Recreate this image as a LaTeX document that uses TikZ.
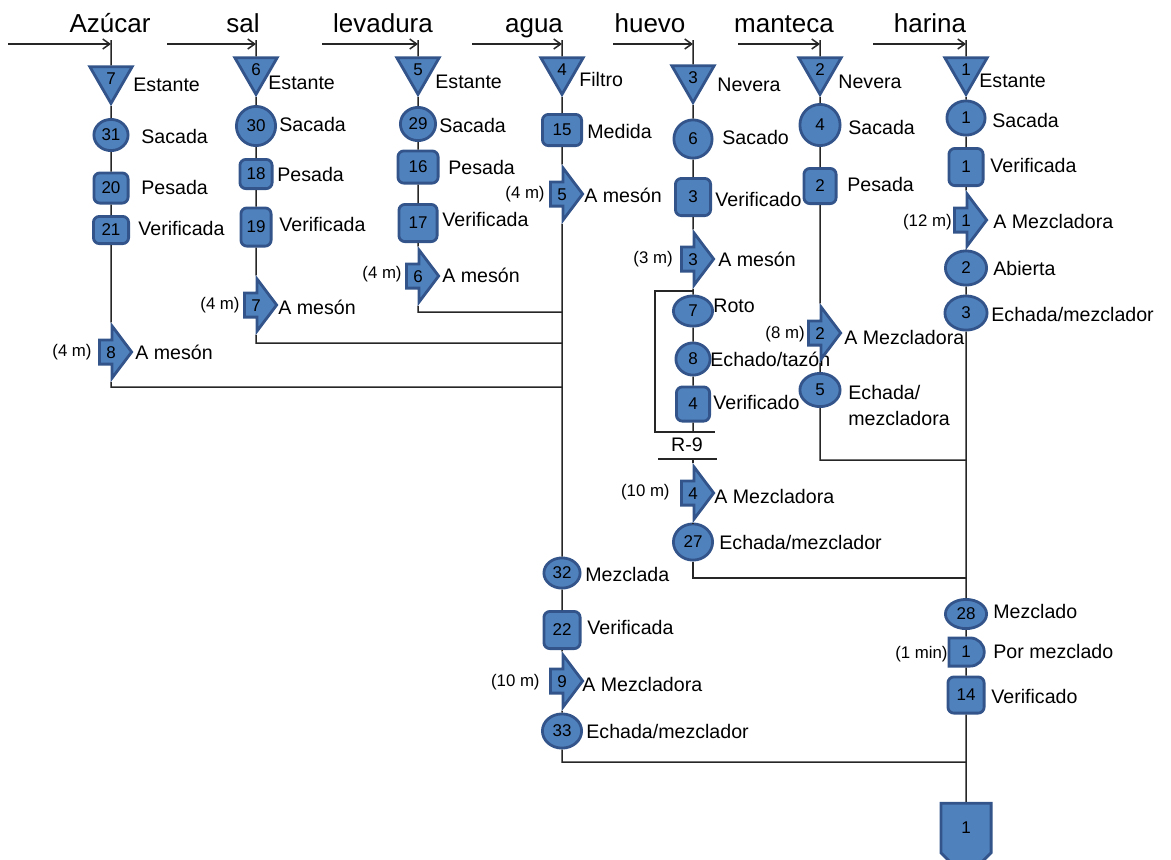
\documentclass[tikz,border=0pt]{standalone}
\usepackage{fontspec}
\setmainfont{Liberation Sans}
\usetikzlibrary{shapes.geometric,shapes.arrows,shapes.misc,shapes.symbols,arrows.meta}
\definecolor{opfill}{HTML}{4F81BD}
\definecolor{opedge}{HTML}{33548A}
\newcommand{\numfont}{\fontsize{8.5}{10}\selectfont}
\newcommand{\lblfont}{\fontsize{9.8}{13}\selectfont}
\newcommand{\distfont}{\fontsize{8.4}{10}\selectfont}
\newcommand{\hdrfont}{\fontsize{13}{15}\selectfont}
\tikzset{
  shp/.style={draw=opedge, fill=opfill, line width=1.4pt, font=\numfont, inner sep=0pt},
  sz/.style 2 args={minimum width=#1pt, minimum height=#2pt},
  oper/.style={shp, ellipse, sz={19.6}{16.6}},
  insp/.style={shp, rectangle, rounded corners=3pt, sz={17.6}{17.1}},
  stor/.style={shp, regular polygon, regular polygon sides=3, shape border rotate=180, minimum size=24.4pt},
  transp/.style={shp, single arrow, single arrow head extend=7pt, single arrow tip angle=106,
    minimum height=16.1pt, inner xsep=1pt, inner ysep=2.3pt, text height=6.1pt, text depth=0pt},
  delay/.style={shp, rounded rectangle, rounded rectangle left arc=none, sz={17.6}{14.1}},
  endstore/.style={shp, signal, signal to=south, signal from=nowhere, sz={25.1}{27.1}},
  lbl/.style={font=\lblfont, anchor=west, inner sep=0pt, text height=6.9pt, text depth=0pt},
  dist/.style={font=\distfont, anchor=east, inner sep=0pt, text height=6pt, text depth=0pt},
  hdr/.style={font=\hdrfont, anchor=base, inner sep=0pt},
  conn/.style={line width=0.75pt, draw=black!85},
  inarr/.style={conn, -{Straight Barb[length=3.5pt,width=5pt]}},
}
\begin{document}
\begin{tikzpicture}[x=0.5pt, y=-0.5pt]
  \useasboundingbox (0,0) rectangle (1171,859);
  % ingredients with their incoming arrows
  \foreach \col/\sx/\cx/\hx/\txt in {az/8/111/110/Azúcar, sa/167/256/243/sal,
      le/322/418/383/levadura, ag/472/562/534/agua, hu/613/693/650/huevo,
      ma/738/820/784/manteca, ha/873/966/930/harina}{
    \node[hdr] (\col-h) at (\hx,32) {\txt};
    \coordinate (\col-src) at (\sx,44);
    \coordinate (\col-tip) at (\cx,44);
    \coordinate (\col-in) at (\cx,40);
    \draw[inarr] (\col-src) -- (\col-tip);
  }
  % azucar
  \node[stor] (az1) at (111,79) {7};
  \node[oper, sz={17.1}{15.6}] (az2) at (111,135) {31};
  \node[insp, sz={17.1}{15.1}] (az3) at (111,188) {20};
  \node[insp, sz={17.6}{13.6}] (az4) at (111,230) {21};
  \node[transp] (az5) at (111,352) {8};
  \node[lbl] (az1l) at (133,85) {Estante};
  \node[lbl] (az2l) at (141,137) {Sacada};
  \node[lbl] (az3l) at (141,188) {Pesada};
  \node[lbl] (az4l) at (138,229) {Verificada};
  \node[lbl] (az5l) at (135,353) {A mesón};
  \node[dist] (az5d) at (92,350) {(4 m)};
  \coordinate (azOut) at (111,387);
  % sal
  \node[stor] (sa1) at (256,70) {6};
  \node[oper, sz={19.6}{19.6}] (sa2) at (256,126) {30};
  \node[insp, sz={16.1}{14.6}] (sa3) at (256,174) {18};
  \node[insp, sz={15.1}{19.1}] (sa4) at (256,227) {19};
  \node[transp] (sa5) at (256,305) {7};
  \node[lbl] (sa1l) at (268,83) {Estante};
  \node[lbl] (sa2l) at (279,125) {Sacada};
  \node[lbl] (sa3l) at (277,175) {Pesada};
  \node[lbl] (sa4l) at (279,225) {Verificada};
  \node[lbl] (sa5l) at (278,308) {A mesón};
  \node[dist] (sa5d) at (240,303) {(4 m)};
  \coordinate (saOut) at (256,343);
  % levadura
  \node[stor] (le1) at (418,70) {5};
  \node[oper, sz={17.6}{16.6}] (le2) at (418,124) {29};
  \node[insp, sz={20.1}{16.1}] (le3) at (418,167) {16};
  \node[insp, sz={19.1}{18.6}] (le4) at (418,223) {17};
  \node[transp] (le5) at (418,276) {6};
  \node[lbl] (le1l) at (435,82) {Estante};
  \node[lbl] (le2l) at (439,126) {Sacada};
  \node[lbl] (le3l) at (448,168) {Pesada};
  \node[lbl] (le4l) at (442,220) {Verificada};
  \node[lbl] (le5l) at (442,276) {A mesón};
  \node[dist] (le5d) at (402,272) {(4 m)};
  \coordinate (leOut) at (418,312);
  % agua, and the joints of the three lines above
  \node[stor] (ag1) at (562,70) {4};
  \node[insp, sz={19.6}{15.6}] (ag2) at (562,130) {15};
  \node[transp] (ag3) at (562,194) {5};
  \node[oper, sz={18.1}{15.1}] (ag4) at (562,573) {32};
  \node[insp, sz={18.1}{18.6}] (ag5) at (562,630) {22};
  \node[transp] (ag6) at (562,681) {9};
  \node[oper, sz={19.6}{17.1}] (ag7) at (562,731) {33};
  \node[lbl] (ag1l) at (579,80) {Filtro};
  \node[lbl] (ag2l) at (587,132) {Medida};
  \node[lbl] (ag3l) at (584,196) {A mesón};
  \node[dist] (ag3d) at (545,192) {(4 m)};
  \node[lbl] (ag4l) at (585,575) {Mezclada};
  \node[lbl] (ag5l) at (587,628) {Verificada};
  \node[lbl] (ag6l) at (582,685) {A Mezcladora};
  \node[dist] (ag6d) at (540,680) {(10 m)};
  \node[lbl] (ag7l) at (586,732) {Echada/mezclador};
  \coordinate (agJ1) at (562,312);
  \coordinate (agJ2) at (562,343);
  \coordinate (agJ3) at (562,387);
  \coordinate (agOut) at (562,762);
  % huevo, with the R-9 loop
  \node[stor] (hu1) at (693,78) {3};
  \node[oper, sz={19.1}{19.1}] (hu2) at (693,139) {6};
  \node[insp, sz={17.6}{18.6}] (hu3) at (693,197) {3};
  \node[transp] (hu4) at (693,259) {3};
  \node[oper, sz={19.6}{15.1}] (hu5) at (693,311) {7};
  \node[oper, sz={17.1}{16.1}] (hu6) at (693,359) {8};
  \node[insp, sz={16.6}{17.1}] (hu7) at (693,404) {4};
  \node[transp] (hu8) at (693,493) {4};
  \node[oper, sz={19.6}{18.1}] (hu9) at (693,542) {27};
  \node[lbl] (hu1l) at (717,85) {Nevera};
  \node[lbl] (hu2l) at (722,138) {Sacado};
  \node[lbl] (hu3l) at (715,200) {Verificado};
  \node[lbl] (hu4l) at (718,260) {A mesón};
  \node[dist] (hu4d) at (673,257) {(3 m)};
  \node[lbl] (hu5l) at (713,306) {Roto};
  \node[lbl] (hu6l) at (710,360) {Echado/tazón};
  \node[lbl] (hu7l) at (713,403) {Verificado};
  \node[lbl] (hu8l) at (714,497) {A Mezcladora};
  \node[dist] (hu8d) at (670,490) {(10 m)};
  \node[lbl] (hu9l) at (719,543) {Echada/mezclador};
  \node[lbl, anchor=center] (rw) at (687,445) {R-9};
  \coordinate (rwA) at (693,291);
  \coordinate (rwB) at (655,291);
  \coordinate (rwC) at (655,432);
  \coordinate (rwD) at (715,432);
  \coordinate (rwE) at (658,459);
  \coordinate (rwF) at (717,459);
  \coordinate (huR1) at (693,432);
  \coordinate (huR2) at (693,459);
  \coordinate (huOut) at (693,578);
  % manteca
  \node[stor] (ma1) at (820,70) {2};
  \node[oper, sz={20.1}{20.6}] (ma2) at (820,125) {4};
  \node[insp, sz={16.1}{17.6}] (ma3) at (820,186) {2};
  \node[transp] (ma4) at (820,333) {2};
  \node[oper, sz={20.1}{16.6}] (ma5) at (820,390) {5};
  \node[lbl] (ma1l) at (838,82) {Nevera};
  \node[lbl] (ma2l) at (848,128) {Sacada};
  \node[lbl] (ma3l) at (847,185) {Pesada};
  \node[lbl] (ma4l) at (844,338) {A Mezcladora};
  \node[dist] (ma4d) at (805,332) {(8 m)};
  \node[font=\lblfont, anchor=north west, inner sep=0pt, align=left] (ma5l) at (848,385) {Echada/\\mezcladora};
  \coordinate (maOut) at (820,460);
  % harina, main line down to the final store
  \node[stor] (ha1) at (966,70) {1};
  \node[oper, sz={19.1}{17.1}] (ha2) at (966,118) {1};
  \node[insp, sz={17.1}{18.6}] (ha3) at (966,167) {1};
  \node[transp] (ha4) at (966,220) {1};
  \node[oper, sz={20.6}{17.1}] (ha5) at (966,268) {2};
  \node[oper, sz={21.1}{17.1}] (ha6) at (966,313) {3};
  \node[oper, sz={20.6}{14.6}] (ha7) at (966,614) {28};
  \node[delay] (ha8) at (966,652) {1};
  \node[insp, sz={18.1}{18.1}] (ha9) at (966,695) {14};
  \node[endstore] (ha10) at (966,828) {1};
  \node[lbl] (ha1l) at (979,81) {Estante};
  \node[lbl] (ha2l) at (992,121) {Sacada};
  \node[lbl] (ha3l) at (990,166) {Verificada};
  \node[lbl] (ha4l) at (993,222) {A Mezcladora};
  \node[dist] (ha4d) at (952,220) {(12 m)};
  \node[lbl] (ha5l) at (993,269) {Abierta};
  \node[lbl] (ha6l) at (991,315) {Echada/mezclador};
  \node[lbl] (ha7l) at (993,612) {Mezclado};
  \node[lbl] (ha8l) at (993,652) {Por mezclado};
  \node[dist] (ha8d) at (948,652) {(1 min)};
  \node[lbl] (ha9l) at (991,697) {Verificado};
  \coordinate (haJ1) at (966,460);
  \coordinate (haJ2) at (966,578);
  \coordinate (haJ3) at (966,762);
  % flow lines
  \draw[conn] (az-in) -- (az1) -- (az2) -- (az3) -- (az4) -- (az5) -- (azOut) -- (agJ3);
  \draw[conn] (sa-in) -- (sa1) -- (sa2) -- (sa3) -- (sa4) -- (sa5) -- (saOut) -- (agJ2);
  \draw[conn] (le-in) -- (le1) -- (le2) -- (le3) -- (le4) -- (le5) -- (leOut) -- (agJ1);
  \draw[conn] (ag-in) -- (ag1) -- (ag2) -- (ag3) -- (ag4) -- (ag5) -- (ag6) -- (ag7) -- (agOut) -- (haJ3);
  \draw[conn] (hu-in) -- (hu1) -- (hu2) -- (hu3) -- (hu4) -- (hu5) -- (hu6) -- (hu7) -- (huR1);
  \draw[conn] (huR2) -- (hu8) -- (hu9) -- (huOut) -- (haJ2);
  \draw[conn] (rwA) -- (rwB) -- (rwC) -- (rwD);
  \draw[conn] (rwE) -- (rwF);
  \draw[conn] (ma-in) -- (ma1) -- (ma2) -- (ma3) -- (ma4) -- (ma5) -- (maOut) -- (haJ1);
  \draw[conn] (ha-in) -- (ha1) -- (ha2) -- (ha3) -- (ha4) -- (ha5) -- (ha6) -- (ha7) -- (ha8) -- (ha9) -- (ha10);
\end{tikzpicture}
\end{document}
